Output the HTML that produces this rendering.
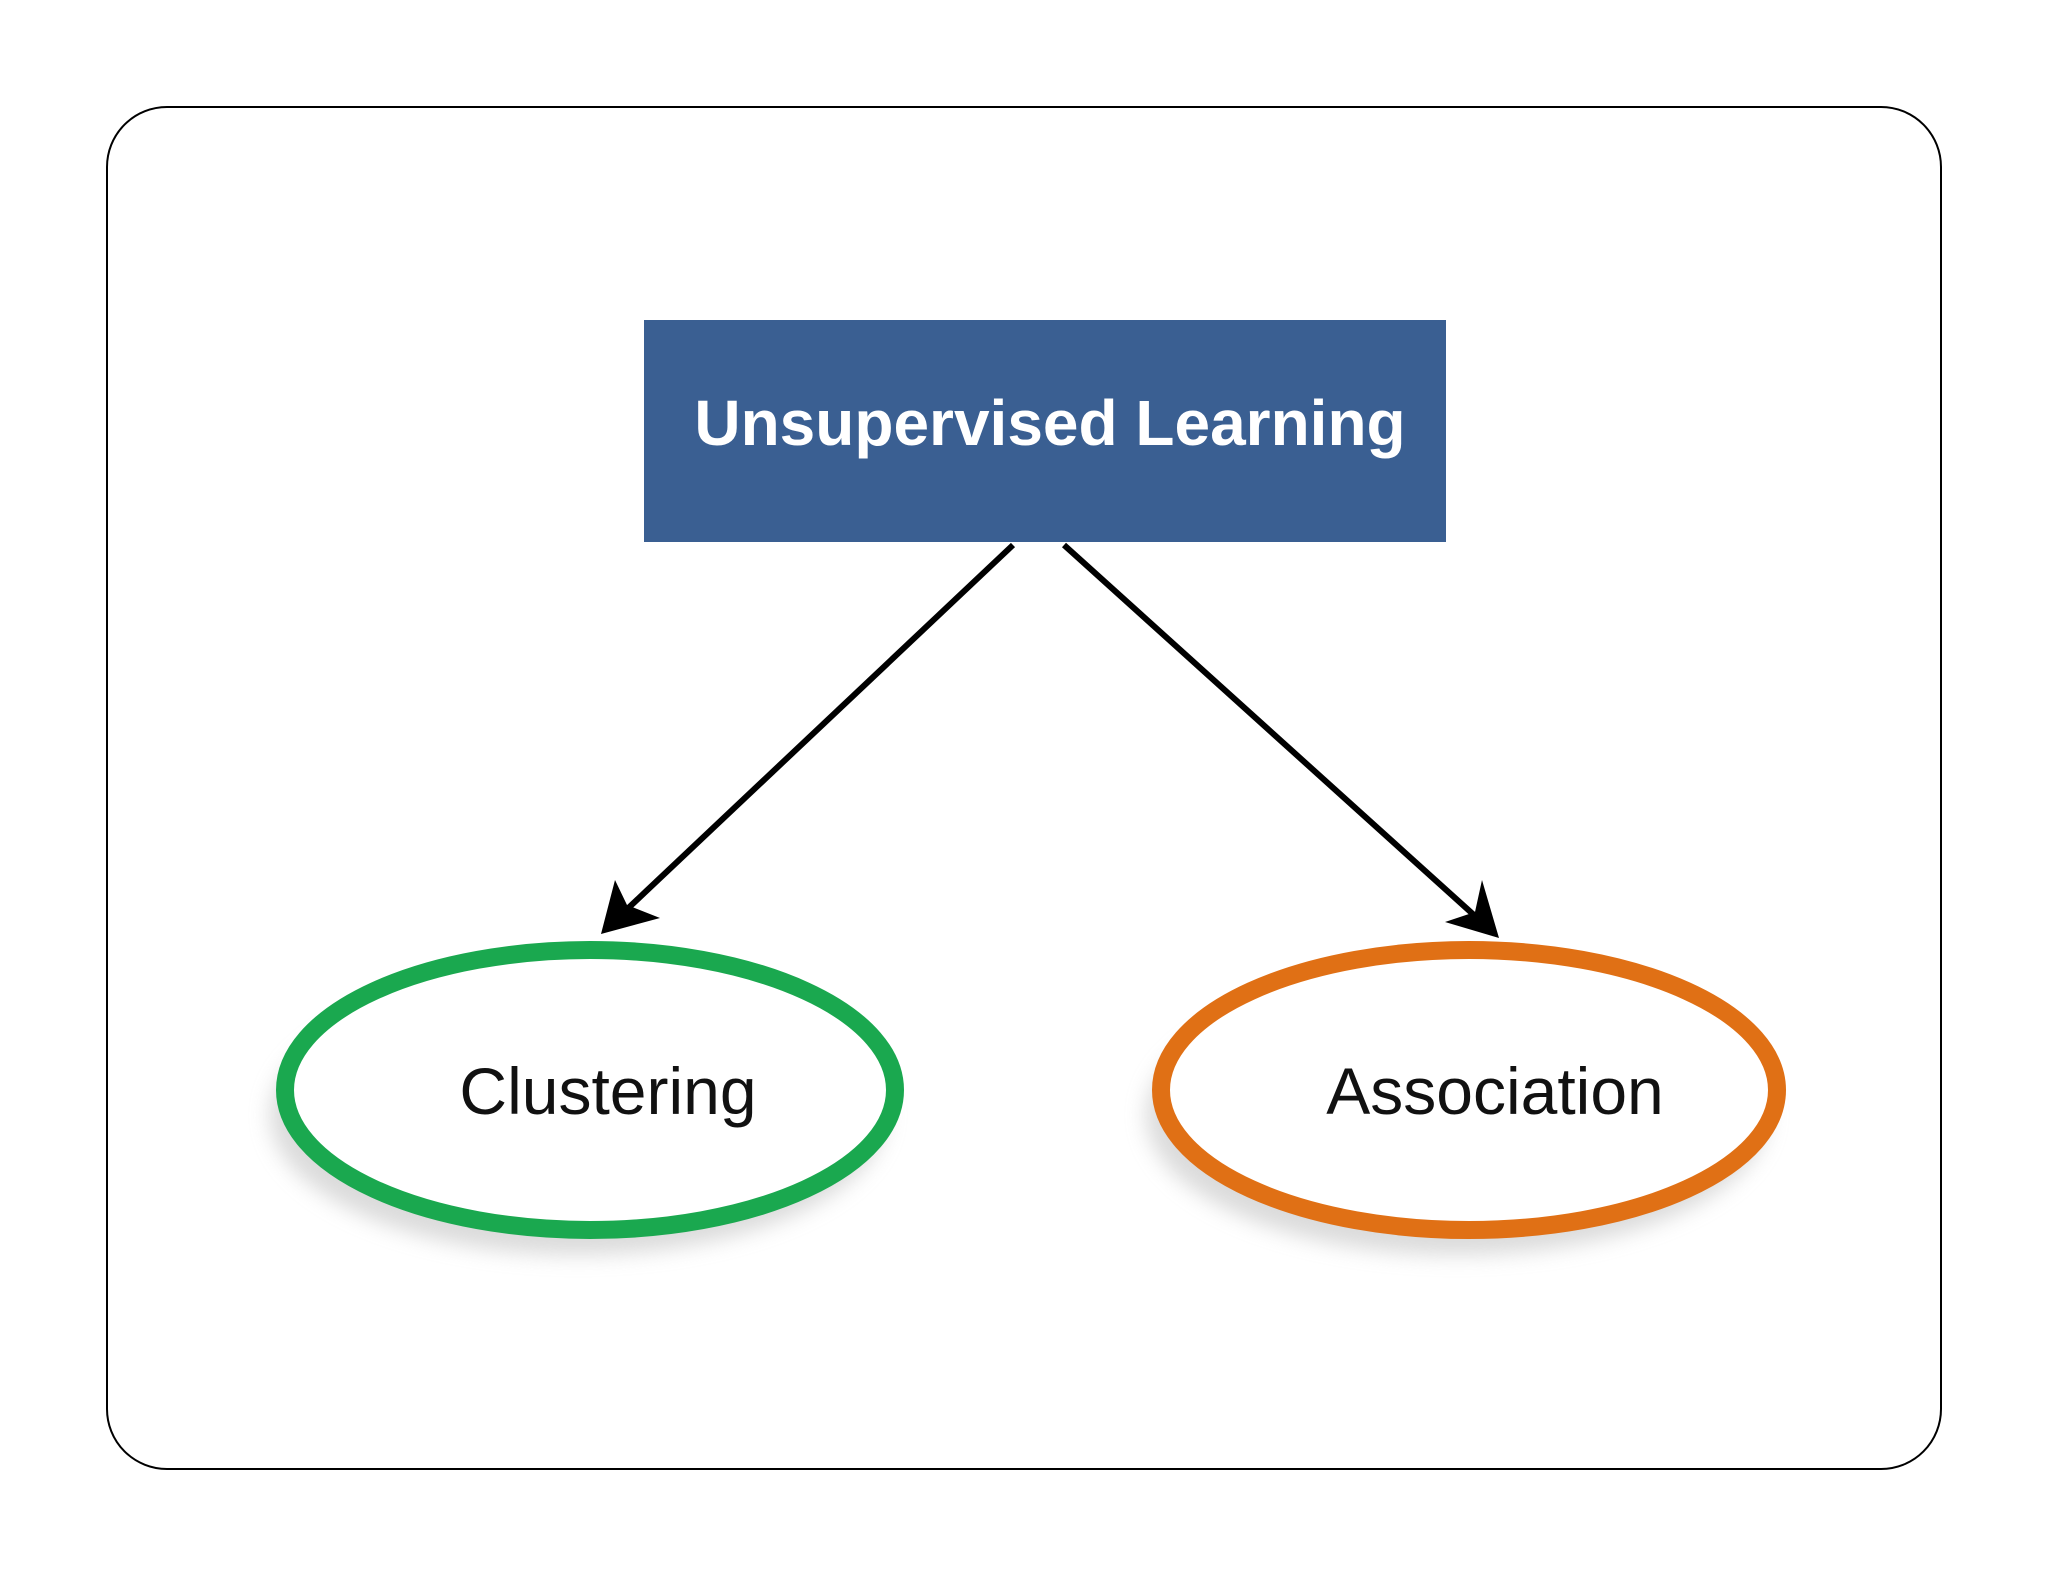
<!DOCTYPE html>
<html><head><style>
html,body{margin:0;padding:0;background:#fff;}
</style></head><body>
<svg width="2048" height="1582" viewBox="0 0 2048 1582" xmlns="http://www.w3.org/2000/svg">
<defs>
<filter id="sh" x="-20%" y="-20%" width="140%" height="150%"><feGaussianBlur stdDeviation="10"/></filter>
</defs>
<rect x="107" y="107" width="1834" height="1362" rx="60" ry="60" fill="#fff" stroke="#000" stroke-width="2"/>
<rect x="644" y="320" width="802" height="222" fill="#3a5f92"/>
<text x="1050" y="445" font-family="Liberation Sans, sans-serif" font-weight="bold" font-size="64" fill="#fff" text-anchor="middle">Unsupervised Learning</text>
<line x1="1013" y1="545" x2="605" y2="930" stroke="#000" stroke-width="6"/>
<path d="M601,934 L615,880 L627,905 L660,918 Z" fill="#000"/>
<line x1="1064" y1="545" x2="1495" y2="934" stroke="#000" stroke-width="6"/>
<path d="M1499,938 L1445,922 L1475,912 L1482,880 Z" fill="#000"/>
<ellipse cx="578" cy="1115" rx="308" ry="140" fill="#ccc" filter="url(#sh)" opacity="0.7"/>
<ellipse cx="1457" cy="1115" rx="311" ry="140" fill="#ccc" filter="url(#sh)" opacity="0.7"/>
<ellipse cx="590" cy="1090" rx="305" ry="140" fill="#fff" stroke="#1aa84f" stroke-width="18"/>
<ellipse cx="1469" cy="1090" rx="308" ry="140" fill="#fff" stroke="#e07015" stroke-width="18"/>
<text x="608" y="1114" font-family="Liberation Sans, sans-serif" font-size="66" fill="#111" text-anchor="middle">Clustering</text>
<text x="1495" y="1114" font-family="Liberation Sans, sans-serif" font-size="66" fill="#111" text-anchor="middle">Association</text>
</svg>
</body></html>
